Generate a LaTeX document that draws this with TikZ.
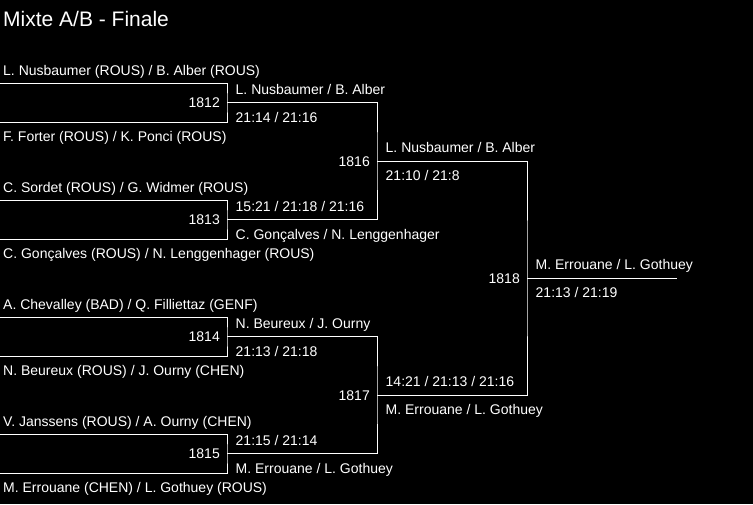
\documentclass[tikz,border=0pt]{standalone}
\usepackage{fontspec}
\setmainfont{Liberation Sans}
\begin{document}
\begin{tikzpicture}[x=1pt,y=-1pt,
  every node/.style={inner sep=0pt,text=white},
  lbl/.style={anchor=base west,font=\fontsize{14}{16}\selectfont},
  num/.style={anchor=base east,font=\fontsize{14}{16}\selectfont},
  ttl/.style={anchor=base west,font=\fontsize{21}{24}\selectfont},
  brk/.style={draw=white,line width=1pt}]
\fill[black] (0,0) rectangle (753,504);
\useasboundingbox (0,0) rectangle (753,504);
% title
\node[ttl] (title) at (3,26) {Mixte A/B - Finale};
% entry line ends
\coordinate (e1) at (0,83.5);
\coordinate (e2) at (0,122);
\coordinate (e3) at (0,200.5);
\coordinate (e4) at (0,239);
\coordinate (e5) at (0,317.5);
\coordinate (e6) at (0,356);
\coordinate (e7) at (0,434.5);
\coordinate (e8) at (0,473);
% match joints
\coordinate (m1812) at (227,102.75);
\coordinate (m1813) at (227,219.75);
\coordinate (m1814) at (227,336.75);
\coordinate (m1815) at (227,453.75);
\coordinate (m1816) at (377,161.25);
\coordinate (m1817) at (377,395.25);
\coordinate (m1818) at (527,278.25);
\coordinate (champ) at (677,278.25);
% brackets
\draw[brk] (e1) -| (m1812) |- (e2);
\draw[brk] (e3) -| (m1813) |- (e4);
\draw[brk] (e5) -| (m1814) |- (e6);
\draw[brk] (e7) -| (m1815) |- (e8);
\draw[brk] (m1812) -| (m1816) |- (m1813);
\draw[brk] (m1814) -| (m1817) |- (m1815);
\draw[brk] (m1816) -| (m1818) |- (m1817);
\draw[brk] (m1818) -- (champ);
% entries
\node[lbl] (p1) at (3,75) {L. Nusbaumer (ROUS) / B. Alber (ROUS)};
\node[lbl] (p2) at (3,141.5) {F. Forter (ROUS) / K. Ponci (ROUS)};
\node[lbl] (p3) at (3,192) {C. Sordet (ROUS) / G. Widmer (ROUS)};
\node[lbl] (p4) at (3,258.5) {C. Gonçalves (ROUS) / N. Lenggenhager (ROUS)};
\node[lbl] (p5) at (3,309) {A. Chevalley (BAD) / Q. Filliettaz (GENF)};
\node[lbl] (p6) at (3,375.5) {N. Beureux (ROUS) / J. Ourny (CHEN)};
\node[lbl] (p7) at (3,426) {V. Janssens (ROUS) / A. Ourny (CHEN)};
\node[lbl] (p8) at (3,492.5) {M. Errouane (CHEN) / L. Gothuey (ROUS)};
% match numbers
\node[num] (n1812) at (220,107.75) {1812};
\node[num] (n1813) at (220,224.75) {1813};
\node[num] (n1814) at (220,341.75) {1814};
\node[num] (n1815) at (220,458.75) {1815};
\node[num] (n1816) at (370,166.25) {1816};
\node[num] (n1817) at (370,400.25) {1817};
\node[num] (n1818) at (520,283.25) {1818};
% round 1 winners
\node[lbl] (w1812) at (235.5,94.25) {L. Nusbaumer / B. Alber};
\node[lbl] (s1812) at (235.5,122.25) {21:14 / 21:16};
\node[lbl] (s1813) at (235.5,211.25) {15:21 / 21:18 / 21:16};
\node[lbl] (w1813) at (235.5,239.25) {C. Gonçalves / N. Lenggenhager};
\node[lbl] (w1814) at (235.5,328.25) {N. Beureux / J. Ourny};
\node[lbl] (s1814) at (235.5,356.25) {21:13 / 21:18};
\node[lbl] (s1815) at (235.5,445.25) {21:15 / 21:14};
\node[lbl] (w1815) at (235.5,473.25) {M. Errouane / L. Gothuey};
% round 2 winners
\node[lbl] (w1816) at (385.5,152.75) {L. Nusbaumer / B. Alber};
\node[lbl] (s1816) at (385.5,180.75) {21:10 / 21:8};
\node[lbl] (s1817) at (385.5,386.75) {14:21 / 21:13 / 21:16};
\node[lbl] (w1817) at (385.5,414.75) {M. Errouane / L. Gothuey};
% final
\node[lbl] (w1818) at (535.5,269.75) {M. Errouane / L. Gothuey};
\node[lbl] (s1818) at (535.5,297.75) {21:13 / 21:19};
\end{tikzpicture}
\end{document}
